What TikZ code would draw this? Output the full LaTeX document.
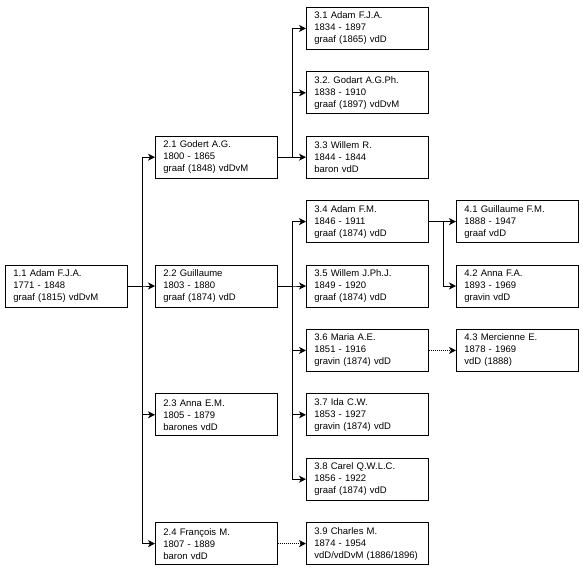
\documentclass[tikz,border=0pt]{standalone}
\usepackage{fontspec}
\setmainfont{Liberation Sans}
\usepackage{tikz}
\usetikzlibrary{arrows.meta,positioning}
\frenchspacing
\definecolor{border}{HTML}{000000}
\tikzset{
  PersonBox/.style={
    draw=border, line width=0.8pt, rectangle, anchor=north west,
    minimum height=42pt, text width=106pt, inner xsep=8pt, inner ysep=2pt,
    align=left, font=\fontsize{9.5}{12}\selectfont
  },
  Link/.style={draw=border, line width=0.8pt, -{Stealth[length=7pt,width=7pt,inset=2pt]}},
  Adopt/.style={Link, dash pattern=on 1pt off 1pt}
}

\begin{document}
\begin{tikzpicture}[x=1pt, y=-1pt, line cap=butt, line join=miter]
  \useasboundingbox (0,0) rectangle (583,571);

  % generation 1
  \node[PersonBox] (p11) at (5,264.6) {1.1 Adam F.J.A.\\1771 - 1848\\graaf (1815) vdDvM};

  % generation 2
  \node[PersonBox] (p21) at (155,135.8) {2.1 Godert A.G.\\1800 - 1865\\graaf (1848) vdDvM};
  \node[PersonBox] (p22) at (155,264.6) {2.2 Guillaume\\1803 - 1880\\graaf (1874) vdD};
  \node[PersonBox] (p23) at (155,393.4) {2.3 Anna E.M.\\1805 - 1879\\barones vdD};
  \node[PersonBox] (p24) at (155,522.2) {2.4 François M.\\1807 - 1889\\baron vdD};

  % generation 3
  \node[PersonBox] (p31) at (306,7)     {3.1 Adam F.J.A.\\1834 - 1897\\graaf (1865) vdD};
  \node[PersonBox] (p32) at (306,71.4)  {3.2. Godart A.G.Ph.\\1838 - 1910\\graaf (1897) vdDvM};
  \node[PersonBox] (p33) at (306,135.8) {3.3 Willem R.\\1844 - 1844\\baron vdD};
  \node[PersonBox] (p34) at (306,200.2) {3.4 Adam F.M.\\1846 - 1911\\graaf (1874) vdD};
  \node[PersonBox] (p35) at (306,264.6) {3.5 Willem J.Ph.J.\\1849 - 1920\\graaf (1874) vdD};
  \node[PersonBox] (p36) at (306,329)   {3.6 Maria A.E.\\1851 - 1916\\gravin (1874) vdD};
  \node[PersonBox] (p37) at (306,393.4) {3.7 Ida C.W.\\1853 - 1927\\gravin (1874) vdD};
  \node[PersonBox] (p38) at (306,457.8) {3.8 Carel Q.W.L.C.\\1856 - 1922\\graaf (1874) vdD};
  \node[PersonBox] (p39) at (306,522.2) {3.9 Charles M.\\1874 - 1954\\vdD/vdDvM (1886/1896)};

  % generation 4
  \node[PersonBox] (p41) at (456,200.2) {4.1 Guillaume F.M.\\1888 - 1947\\graaf vdD};
  \node[PersonBox] (p42) at (456,264.6) {4.2 Anna F.A.\\1893 - 1969\\gravin vdD};
  \node[PersonBox] (p43) at (456,329)   {4.3 Mercienne E.\\1878 - 1969\\vdD (1888)};

  % children
  \foreach \c in {p21,p22,p23,p24}
    \draw[Link] (p11.east) -- ++(15,0) |- (\c.west);
  \foreach \c in {p31,p32,p33}
    \draw[Link] (p21.east) -- ++(15,0) |- (\c.west);
  \foreach \c in {p34,p35,p36,p37,p38}
    \draw[Link] (p22.east) -- ++(15,0) |- (\c.west);
  \foreach \c in {p41,p42}
    \draw[Link] (p34.east) -- ++(15,0) |- (\c.west);

  % adopted / recognised
  \draw[Adopt] (p24.east) -- (p39.west);
  \draw[Adopt] (p36.east) -- (p43.west);
\end{tikzpicture}
\end{document}
